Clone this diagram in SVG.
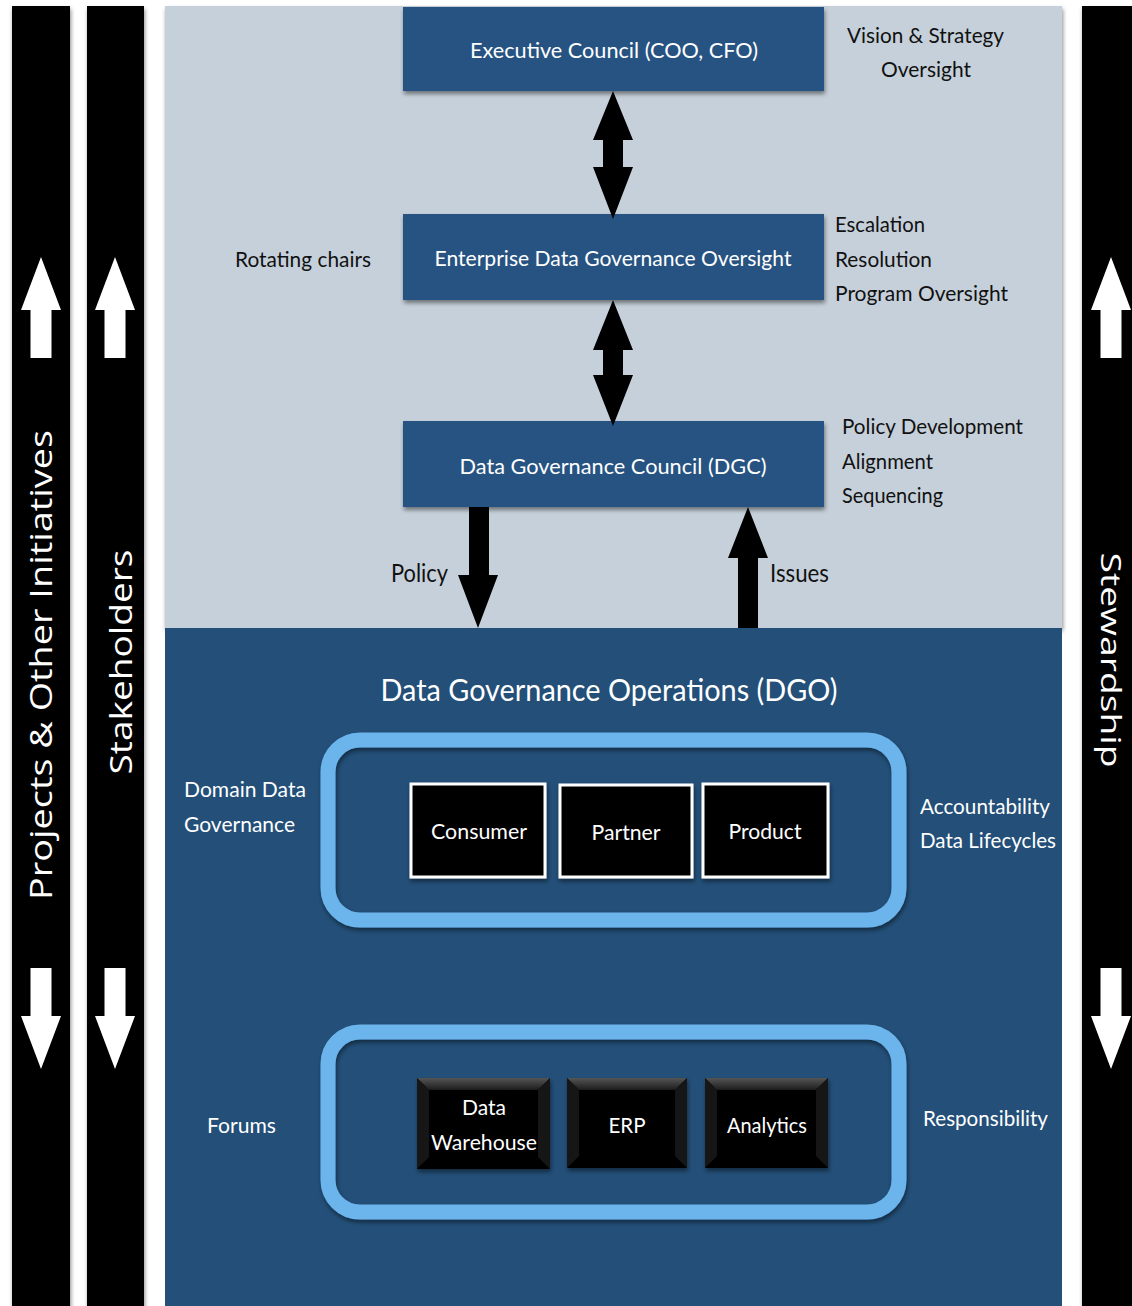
<svg xmlns="http://www.w3.org/2000/svg" width="1132" height="1306" viewBox="0 0 1132 1306">
<defs>
<style>
.lbl{font-family:Lato,"Open Sans",sans-serif;font-size:22px;fill:#111;}
.wl{font-family:Lato,"Open Sans",sans-serif;font-size:22px;fill:#fff;}
.bt{font-family:Lato,"Open Sans",sans-serif;font-size:22px;fill:#fff;text-anchor:middle;}
.side{font-family:"Open Sans",sans-serif;font-size:31px;fill:#fff;text-anchor:middle;}
.box{fill:#275381;}
.bar{fill:#000;}
.ring{fill:none;stroke:#6cb4ec;stroke-width:15;}
.blk{fill:#000;stroke:#fff;stroke-width:3;}
.arr{fill:#000;}
.warr{fill:#fff;}
.bevtop{fill:url(#bevg);}
.bevside{fill:#161616;}
</style>
<filter id="sh" x="-10%" y="-10%" width="120%" height="130%">
<feDropShadow dx="1" dy="3" stdDeviation="2" flood-color="#000" flood-opacity="0.45"/>
</filter>
<linearGradient id="bevg" x1="0" y1="0" x2="0" y2="1">
<stop offset="0" stop-color="#555"/>
<stop offset="1" stop-color="#1c1c1c"/>
</linearGradient>
<path id="up" d="M0,0 L20,53 L10.5,53 L10.5,101 L-10.5,101 L-10.5,53 L-20,53 Z"/>
</defs>

<rect width="1132" height="1306" fill="#fff"/>

<g id="panels">
<rect x="165" y="6" width="897" height="622" fill="#c6d0da" filter="url(#sh)"/>
<rect x="165" y="628" width="897" height="678" fill="#234f78"/>
</g>

<g id="bar-projects">
<rect class="bar" x="12" y="6" width="58" height="1300" filter="url(#sh)"/>
<use href="#up" class="warr" transform="translate(41,257)"/>
<use href="#up" class="warr" transform="translate(41,1069) scale(1,-1)"/>
<text class="side" transform="translate(52,665) rotate(-90)" textLength="470" lengthAdjust="spacingAndGlyphs">Projects &amp; Other Initiatives</text>
</g>

<g id="bar-stakeholders">
<rect class="bar" x="87" y="6" width="57" height="1300" filter="url(#sh)"/>
<use href="#up" class="warr" transform="translate(115,257)"/>
<use href="#up" class="warr" transform="translate(115,1069) scale(1,-1)"/>
<text class="side" transform="translate(132,662) rotate(-90)" textLength="225" lengthAdjust="spacingAndGlyphs">Stakeholders</text>
</g>

<g id="bar-stewardship">
<rect class="bar" x="1082" y="6" width="50" height="1300" filter="url(#sh)"/>
<use href="#up" class="warr" transform="translate(1111,257)"/>
<use href="#up" class="warr" transform="translate(1111,1069) scale(1,-1)"/>
<text class="side" style="font-size:28px" transform="translate(1101,660) rotate(90)" textLength="215" lengthAdjust="spacingAndGlyphs">Stewardship</text>
</g>

<g id="executive-council">
<rect class="box" x="403" y="7" width="421" height="84" filter="url(#sh)"/>
<text class="bt" x="614" y="58" textLength="288" lengthAdjust="spacingAndGlyphs">Executive Council (COO, CFO)</text>
</g>

<g id="enterprise-oversight">
<rect class="box" x="403" y="214" width="421" height="86" filter="url(#sh)"/>
<text class="bt" x="613" y="266" textLength="357" lengthAdjust="spacingAndGlyphs">Enterprise Data Governance Oversight</text>
</g>

<g id="dgc">
<rect class="box" x="403" y="421" width="421" height="86" filter="url(#sh)"/>
<text class="bt" x="613" y="474" textLength="307" lengthAdjust="spacingAndGlyphs">Data Governance Council (DGC)</text>
</g>

<g id="labels">
<text class="lbl" x="847" y="43" textLength="157" lengthAdjust="spacingAndGlyphs">Vision &amp; Strategy</text>
<text class="lbl" x="881" y="77" textLength="90" lengthAdjust="spacingAndGlyphs">Oversight</text>
<text class="lbl" x="235" y="267" textLength="136" lengthAdjust="spacingAndGlyphs">Rotating chairs</text>
<text class="lbl" x="835" y="232" textLength="90" lengthAdjust="spacingAndGlyphs">Escalation</text>
<text class="lbl" x="835" y="267" textLength="97" lengthAdjust="spacingAndGlyphs">Resolution</text>
<text class="lbl" x="835" y="301" textLength="173" lengthAdjust="spacingAndGlyphs">Program Oversight</text>
<text class="lbl" x="842" y="434" textLength="181" lengthAdjust="spacingAndGlyphs">Policy Development</text>
<text class="lbl" x="842" y="469" textLength="91" lengthAdjust="spacingAndGlyphs">Alignment</text>
<text class="lbl" x="842" y="503" textLength="101" lengthAdjust="spacingAndGlyphs">Sequencing</text>
<text class="lbl" x="391" y="582" style="font-size:25px" textLength="57" lengthAdjust="spacingAndGlyphs">Policy</text>
<text class="lbl" x="770" y="582" style="font-size:25px" textLength="59" lengthAdjust="spacingAndGlyphs">Issues</text>
</g>

<g id="dgo">
<text class="bt" x="609" y="701" style="font-size:31px" textLength="457" lengthAdjust="spacingAndGlyphs">Data Governance Operations (DGO)</text>
<text class="wl" x="184" y="797" textLength="122" lengthAdjust="spacingAndGlyphs">Domain Data</text>
<text class="wl" x="184" y="832" textLength="111" lengthAdjust="spacingAndGlyphs">Governance</text>
<text class="wl" x="920" y="814" textLength="130" lengthAdjust="spacingAndGlyphs">Accountability</text>
<text class="wl" x="920" y="848" textLength="136" lengthAdjust="spacingAndGlyphs">Data Lifecycles</text>
<text class="wl" x="207" y="1133" textLength="69" lengthAdjust="spacingAndGlyphs">Forums</text>
<text class="wl" x="923" y="1126" textLength="125" lengthAdjust="spacingAndGlyphs">Responsibility</text>
</g>

<g id="domain-group">
<rect class="ring" x="328" y="740" width="571" height="180" rx="32" filter="url(#sh)"/>
</g>
<g id="consumer">
<rect class="blk" x="411" y="784" width="134" height="93" filter="url(#sh)"/>
<text class="bt" x="479" y="839" textLength="96" lengthAdjust="spacingAndGlyphs">Consumer</text>
</g>
<g id="partner">
<rect class="blk" x="560" y="785" width="132" height="92" filter="url(#sh)"/>
<text class="bt" x="626" y="840" textLength="69" lengthAdjust="spacingAndGlyphs">Partner</text>
</g>
<g id="product">
<rect class="blk" x="703" y="784" width="125" height="93" filter="url(#sh)"/>
<text class="bt" x="765" y="839" textLength="73" lengthAdjust="spacingAndGlyphs">Product</text>
</g>

<g id="forums-group">
<rect class="ring" x="328" y="1032" width="571" height="180" rx="32" filter="url(#sh)"/>
</g>
<g id="data-warehouse">
<rect x="417" y="1078" width="133" height="91" fill="#000" filter="url(#sh)"/>
<polygon class="bevtop" points="417,1078 550,1078 538,1090 429,1090"/>
<polygon class="bevside" points="417,1078 429,1090 429,1157 417,1169"/>
<polygon class="bevside" points="550,1078 538,1090 538,1157 550,1169"/>
<text class="bt" x="484" y="1115" textLength="44" lengthAdjust="spacingAndGlyphs">Data</text>
<text class="bt" x="484" y="1150" textLength="106" lengthAdjust="spacingAndGlyphs">Warehouse</text>
</g>
<g id="erp">
<rect x="567" y="1078" width="120" height="90" fill="#000" filter="url(#sh)"/>
<polygon class="bevtop" points="567,1078 687,1078 675,1090 579,1090"/>
<polygon class="bevside" points="567,1078 579,1090 579,1156 567,1168"/>
<polygon class="bevside" points="687,1078 675,1090 675,1156 687,1168"/>
<text class="bt" x="627" y="1133" textLength="37" lengthAdjust="spacingAndGlyphs">ERP</text>
</g>
<g id="analytics">
<rect x="705" y="1078" width="123" height="90" fill="#000" filter="url(#sh)"/>
<polygon class="bevtop" points="705,1078 828,1078 816,1090 717,1090"/>
<polygon class="bevside" points="705,1078 717,1090 717,1156 705,1168"/>
<polygon class="bevside" points="828,1078 816,1090 816,1156 828,1168"/>
<text class="bt" x="767" y="1133" textLength="80" lengthAdjust="spacingAndGlyphs">Analytics</text>
</g>

<g id="connectors">
<polygon class="arr" points="613,91 633,140 623,140 623,167 633,167 613,219 593,167 603,167 603,140 593,140"/>
<polygon class="arr" points="613,300 633,350 623,350 623,375 633,375 613,426 593,375 603,375 603,350 593,350"/>
<polygon class="arr" points="469,507 489,507 489,575 498,575 478,628 458,575 469,575"/>
<polygon class="arr" points="748,507 768,558 758,558 758,628 738,628 738,558 728,558"/>
</g>
</svg>
